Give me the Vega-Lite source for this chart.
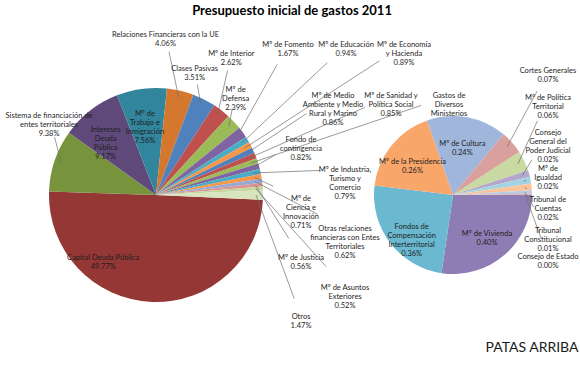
{
  "$schema": "https://vega.github.io/schema/vega-lite/v6.json",
  "background": "white",
  "padding": 5,
  "spacing": 24,
  "bounds": "flush",
  "title": {"text": "Presupuesto inicial de gastos 2011", "font": "Lato", "fontSize": 13, "fontWeight": "bold", "color": "#000000", "anchor": "middle", "offset": 12},
  "config": {"view": {"stroke": null}, "text": {"font": "Lato"}},
  "resolve": {"scale": {"color": "independent", "theta": "independent", "x": "independent", "y": "independent"}},
  "datasets": {
    "main": [
      {"idx": 1, "name": "Capital Deuda Pública", "pct": 49.77},
      {"idx": 2, "name": "Sistema de financiación de\nentes territoriales", "pct": 9.38},
      {"idx": 3, "name": "Intereses\nDeuda\nPública", "pct": 9.17},
      {"idx": 4, "name": "Mº de\nTrabajo e\nInmigración", "pct": 7.56},
      {"idx": 5, "name": "Relaciones Financieras con la UE", "pct": 4.06},
      {"idx": 6, "name": "Clases Pasivas", "pct": 3.51},
      {"idx": 7, "name": "Mº de Interior", "pct": 2.62},
      {"idx": 8, "name": "Mº de\nDefensa", "pct": 2.39},
      {"idx": 9, "name": "Mº de Fomento", "pct": 1.67},
      {"idx": 10, "name": "Mº de Educación", "pct": 0.94},
      {"idx": 11, "name": "Mº de Economía\ny Hacienda", "pct": 0.89},
      {"idx": 12, "name": "Mº de Medio\nAmbiente y Medio\nRural y Marino", "pct": 0.86},
      {"idx": 13, "name": "Mº de Sanidad y\nPolítica Social", "pct": 0.85},
      {"idx": 14, "name": "Gastos de\nDiversos\nMinisterios", "pct": 0.83},
      {"idx": 15, "name": "Fondo de\ncontingencia", "pct": 0.82},
      {"idx": 16, "name": "Mº de Industria,\nTurismo y\nComercio", "pct": 0.79},
      {"idx": 17, "name": "Mº de\nCiencia e\nInnovación", "pct": 0.71},
      {"idx": 18, "name": "Otras relaciones\nfinancieras con Entes\nTerritoriales", "pct": 0.62},
      {"idx": 19, "name": "Mº de Justicia", "pct": 0.56},
      {"idx": 20, "name": "Mº de Asuntos\nExteriores", "pct": 0.52},
      {"idx": 21, "name": "Otros", "pct": 1.47}
    ],
    "otros": [
      {"idx": 1, "name": "Mº de Vivienda", "pct": 0.40},
      {"idx": 2, "name": "Fondos de\nCompensación\nInterterritorial", "pct": 0.36},
      {"idx": 3, "name": "Mº de la Presidencia", "pct": 0.26},
      {"idx": 4, "name": "Mº de Cultura", "pct": 0.24},
      {"idx": 5, "name": "Cortes Generales", "pct": 0.07},
      {"idx": 6, "name": "Mº de Política\nTerritorial", "pct": 0.06},
      {"idx": 7, "name": "Consejo\nGeneral del\nPoder Judicial", "pct": 0.02},
      {"idx": 8, "name": "Mº de\nIgualdad", "pct": 0.02},
      {"idx": 9, "name": "Tribunal de\nCuentas", "pct": 0.02},
      {"idx": 10, "name": "Tribunal\nConstitucional", "pct": 0.01},
      {"idx": 11, "name": "Consejo de Estado", "pct": 0.004}
    ]
  },
  "hconcat": [
    {
      "width": 296,
      "height": 330,
      "data": {"name": "main"},
      "transform": [
        {"window": [{"op": "sum", "field": "pct", "as": "cum"}], "sort": [{"field": "idx", "order": "ascending"}], "frame": [null, 0]},
        {"joinaggregate": [{"op": "sum", "field": "pct", "as": "total"}]},
        {"calculate": "1.61699 + 2*PI*(datum.cum - datum.pct/2)/datum.total", "as": "mid"},
        {"calculate": "datum.name + '\\n' + format(datum.pct, '.2f') + '%'", "as": "label"},
        {"calculate": "length(split(datum.label, '\\n'))", "as": "nl"},
        {"calculate": "datum.idx == 1 ? datum.mid + 0.66 : datum.idx == 2 ? datum.mid + 0.31 : (datum.idx <= 4 ? datum.mid : datum.mid - 0.17)", "as": "la"},
        {"calculate": "datum.idx <= 4 ? (datum.idx == 2 ? 133 : 82) : (datum.idx % 2 == 1 ? 160 : 132)", "as": "lr"},
        {"calculate": "datum.idx <= 8 ? datum.lr*sin(datum.la) : datum.idx <= 11 ? 132 + 58*(datum.idx-9) : datum.idx <= 14 ? 177 + 58*(datum.idx-12) : (datum.idx % 2 == 1 ? 145 : 189)", "as": "lx"},
        {"calculate": "datum.idx <= 8 ? datum.lr*cos(datum.la) : datum.idx <= 11 ? 150 : datum.idx <= 14 ? 99 : 55 - 29.5*(datum.idx-15)", "as": "ly"},
        {"calculate": "100*sin(datum.mid)", "as": "sx"},
        {"calculate": "100*cos(datum.mid)", "as": "sy"},
        {"calculate": "sqrt(pow(datum.sx-datum.lx,2)+pow(datum.sy-datum.ly,2))", "as": "dist"},
        {"calculate": "(datum.sx-datum.lx)/datum.dist", "as": "ux"},
        {"calculate": "(datum.sy-datum.ly)/datum.dist", "as": "uy"},
        {"calculate": "min(24*abs(datum.ux) + (datum.nl*4.5+3)*abs(datum.uy), 0.9*datum.dist)", "as": "dd"},
        {"calculate": "datum.lx + datum.dd*datum.ux", "as": "ex"},
        {"calculate": "datum.ly + datum.dd*datum.uy", "as": "ey"}
      ],
      "layer": [
        {
          "mark": {"type": "arc", "radius": 107, "stroke": null},
          "encoding": {
            "theta": {"field": "pct", "type": "quantitative", "stack": true, "scale": {"range": [1.61699, 7.90018]}},
            "color": {"field": "idx", "type": "nominal", "legend": null,
              "scale": {"domain": [1,2,3,4,5,6,7,8,9,10,11,12,13,14,15,16,17,18,19,20,21],
                "range": ["#953735","#77933C","#5F497A","#31859C","#D4782F","#4F81BD","#C0504D","#9BBB59","#8064A2","#4BACC6","#F79646","#4F81BD","#C0504D","#9BBB59","#8064A2","#4BACC6","#F79646","#95A9D6","#D99694","#C3D69B","#D7E4BD"]}},
            "order": {"field": "idx", "type": "quantitative"}
          }
        },
        {
          "transform": [{"filter": "datum.idx != 1 && datum.idx != 3 && datum.idx != 4"}],
          "mark": {"type": "rule", "color": "#6f6f6f", "strokeWidth": 0.7},
          "encoding": {
            "x": {"field": "sx", "type": "quantitative", "scale": {"domain": [-148, 148], "nice": false, "zero": false}, "axis": null},
            "y": {"field": "sy", "type": "quantitative", "scale": {"domain": [-165, 165], "nice": false, "zero": false}, "axis": null},
            "x2": {"field": "ex"},
            "y2": {"field": "ey"}
          }
        },
        {
          "mark": {"type": "text", "fontSize": 7.5, "lineHeight": 9, "lineBreak": "\n", "align": "center", "baseline": "middle", "color": "#1e1e1e"},
          "encoding": {
            "x": {"field": "lx", "type": "quantitative", "scale": {"domain": [-148, 148], "nice": false, "zero": false}, "axis": null},
            "y": {"field": "ly", "type": "quantitative", "scale": {"domain": [-165, 165], "nice": false, "zero": false}, "axis": null},
            "text": {"field": "label"}
          }
        }
      ]
    },
    {
      "width": 250,
      "height": 330,
      "title": {"text": "PATAS ARRIBA", "orient": "bottom", "anchor": "end", "font": "Lato", "fontSize": 14, "fontWeight": "normal", "color": "#1a1a1a", "offset": -19},
      "data": {"name": "otros"},
      "transform": [
        {"window": [{"op": "sum", "field": "pct", "as": "cum"}], "sort": [{"field": "idx", "order": "ascending"}], "frame": [null, 0]},
        {"joinaggregate": [{"op": "sum", "field": "pct", "as": "total"}]},
        {"calculate": "PI/2 + 2*PI*(datum.cum - datum.pct/2)/datum.total", "as": "mid"},
        {"calculate": "datum.name + '\\n' + format(datum.pct, '.2f') + '%'", "as": "label"},
        {"calculate": "length(split(datum.label, '\\n'))", "as": "nl"},
        {"calculate": "datum.idx >= 5 ? datum.nl*9 + 4 : 0", "as": "h"},
        {"window": [{"op": "sum", "field": "h", "as": "cumh"}], "sort": [{"field": "idx", "order": "ascending"}], "frame": [null, 0]},
        {"calculate": "datum.idx <= 4 ? 52*sin(datum.mid) : 95", "as": "lx"},
        {"calculate": "datum.idx <= 4 ? 52*cos(datum.mid) : 135 - datum.cumh + datum.h/2", "as": "ly"},
        {"calculate": "72*sin(datum.mid)", "as": "sx"},
        {"calculate": "72*cos(datum.mid)", "as": "sy"},
        {"calculate": "sqrt(pow(datum.sx-datum.lx,2)+pow(datum.sy-datum.ly,2))", "as": "dist"},
        {"calculate": "(datum.sx-datum.lx)/datum.dist", "as": "ux"},
        {"calculate": "(datum.sy-datum.ly)/datum.dist", "as": "uy"},
        {"calculate": "min(26*abs(datum.ux) + (datum.nl*4.5+3)*abs(datum.uy), 0.9*datum.dist)", "as": "dd"},
        {"calculate": "datum.lx + datum.dd*datum.ux", "as": "ex"},
        {"calculate": "datum.ly + datum.dd*datum.uy", "as": "ey"}
      ],
      "layer": [
        {
          "mark": {"type": "arc", "radius": 79, "stroke": null},
          "encoding": {
            "theta": {"field": "pct", "type": "quantitative", "stack": true, "scale": {"range": [1.5708, 7.85398]}},
            "color": {"field": "idx", "type": "nominal", "legend": null,
              "scale": {"domain": [1,2,3,4,5,6,7,8,9,10,11],
                "range": ["#8D7DB4","#6AB9D0","#F9A66B","#A0B7DB","#D9A09E","#C8D9A2","#B5A7CC","#A3D4E3","#FBC49B","#B8C9E3","#E0B5B4"]}},
            "order": {"field": "idx", "type": "quantitative"}
          }
        },
        {
          "transform": [{"filter": "datum.idx > 4"}],
          "mark": {"type": "rule", "color": "#6f6f6f", "strokeWidth": 0.7},
          "encoding": {
            "x": {"field": "sx", "type": "quantitative", "scale": {"domain": [-125, 125], "nice": false, "zero": false}, "axis": null},
            "y": {"field": "sy", "type": "quantitative", "scale": {"domain": [-165, 165], "nice": false, "zero": false}, "axis": null},
            "x2": {"field": "ex"},
            "y2": {"field": "ey"}
          }
        },
        {
          "mark": {"type": "text", "fontSize": 7.5, "lineHeight": 9, "lineBreak": "\n", "align": "center", "baseline": "middle", "color": "#1e1e1e"},
          "encoding": {
            "x": {"field": "lx", "type": "quantitative", "scale": {"domain": [-125, 125], "nice": false, "zero": false}, "axis": null},
            "y": {"field": "ly", "type": "quantitative", "scale": {"domain": [-165, 165], "nice": false, "zero": false}, "axis": null},
            "text": {"field": "label"}
          }
        }
      ]
    }
  ]
}
